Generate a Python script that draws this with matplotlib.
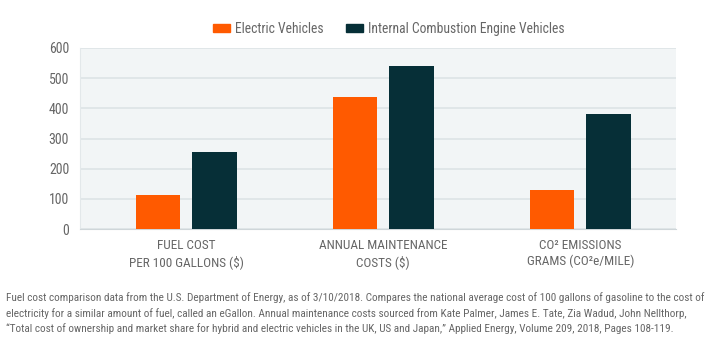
import numpy as np
import matplotlib
matplotlib.use("Agg")
import matplotlib.pyplot as plt
from matplotlib.patches import Patch

plt.rcParams['font.family'] = ['Roboto Condensed', 'Open Sans Condensed', 'Liberation Sans Narrow', 'DejaVu Sans']

categories = ["FUEL COST\nPER 100 GALLONS ($)", "ANNUAL MAINTENANCE\nCOSTS ($)", "CO² EMISSIONS\nGRAMS (CO²e/MILE)"]
electric = [113, 438, 128]
combustion = [255, 539, 380]
series_names = ["Electric Vehicles", "Internal Combustion Engine Vehicles"]
yticks = [0, 100, 200, 300, 400, 500, 600]

orange = "#ff5a00"
dark = "#062f37"
grey = "#666666"

fig = plt.figure(figsize=(7.2, 3.4), dpi=100)
ax = fig.add_axes([0.1115, 0.326, 0.8274, 0.533])
ax.set_facecolor("#f2f5f6")

x = np.arange(len(categories))
w = 0.226
off = 0.1437
ax.bar(x - off, electric, w, color=orange, zorder=3)
ax.bar(x + off, combustion, w, color=dark, zorder=3)

ax.set_xlim(-0.538, 2.486)
ax.set_ylim(0, 600)
ax.set_yticks(yticks)
ax.yaxis.grid(True, color="#dde3e6", linewidth=1.2, zorder=0)
ax.set_xticks(x)
ax.set_xticklabels(categories, fontsize=9.5, color=grey, linespacing=1.3)
ax.tick_params(axis='y', labelsize=10, colors=grey, length=0, pad=8)
ax.tick_params(axis='x', length=0, pad=7)
for s in ["top", "right"]:
    ax.spines[s].set_visible(False)
ax.spines["left"].set_color("#e3e8ea")
ax.spines["bottom"].set_color("#cfd6d9")

handles = [Patch(color=orange), Patch(color=dark)]
fig.legend(handles, series_names, loc="center", bbox_to_anchor=(0.540, 0.915), ncol=2,
           frameon=False, fontsize=9.8, labelcolor=grey, handlelength=1.25, handleheight=0.45,
           columnspacing=1.6, handletextpad=0.4)

note = ("Fuel cost comparison data from the U.S. Department of Energy, as of 3/10/2018. Compares the national average cost of 100 gallons of gasoline to the cost of\n"
        "electricity for a similar amount of fuel, called an eGallon. Annual maintenance costs sourced from Kate Palmer, James E. Tate, Zia Wadud, John Nellthorp,\n"
        "\u201cTotal cost of ownership and market share for hybrid and electric vehicles in the UK, US and Japan,\u201d Applied Energy, Volume 209, 2018, Pages 108-119.")
t = fig.text(0.009, 0.079, note, fontsize=8, color=grey, va="center", ha="left", linespacing=1.55)
fig.canvas.draw()
wpx = t.get_window_extent().width
t.set_fontsize(8 * 700 / wpx)

fig.savefig("out.png", dpi=100)
